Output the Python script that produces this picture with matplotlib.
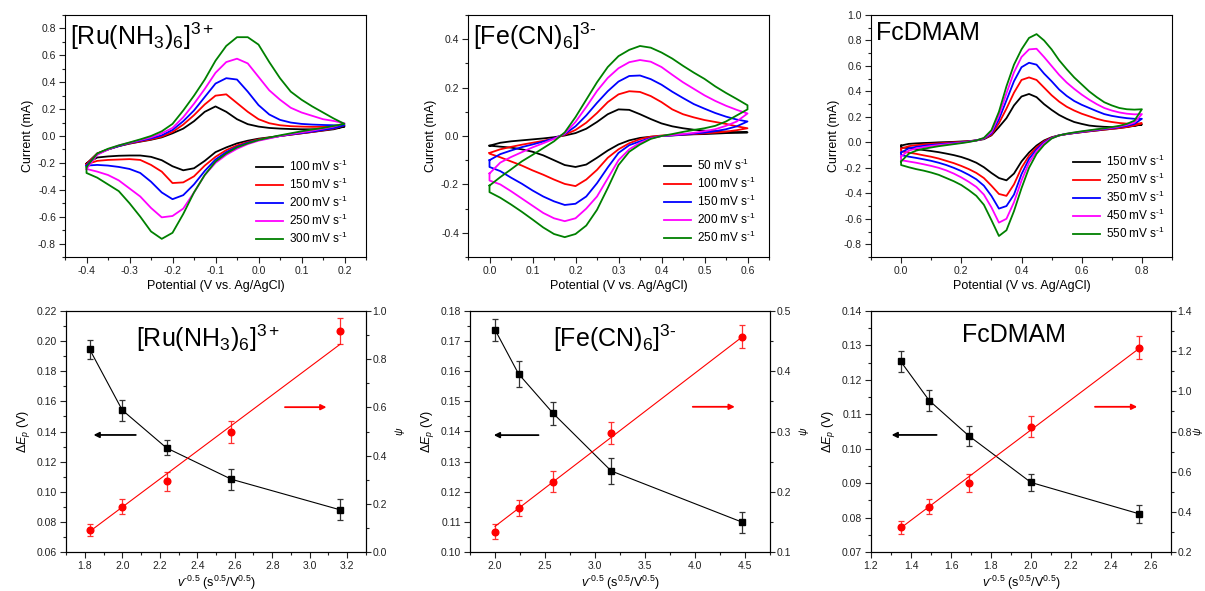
import numpy as np
import matplotlib
matplotlib.use('Agg')
import matplotlib.pyplot as plt
from matplotlib.ticker import MultipleLocator, AutoMinorLocator

# fonts: Arial-like text, mathtext with the same family
matplotlib.rcParams['font.family'] = ['Liberation Sans', 'DejaVu Sans']
matplotlib.rcParams['mathtext.fontset'] = 'custom'
matplotlib.rcParams['mathtext.rm'] = 'Liberation Sans'
matplotlib.rcParams['mathtext.it'] = 'Liberation Sans:italic'
matplotlib.rcParams['mathtext.bf'] = 'Liberation Sans:bold'
matplotlib.rcParams['axes.unicode_minus'] = False
matplotlib.rcParams['axes.linewidth'] = 0.8

colors = ['black', 'red', 'blue', 'magenta', 'green']

# ---------------- CV data, [Ru(NH3)6]3+ ----------------
ru_x = [-0.4, -0.375, -0.35, -0.325, -0.3, -0.275, -0.25, -0.225, -0.2, -0.175, -0.15, -0.125,
        -0.1, -0.075, -0.05, -0.025, 0.0, 0.025, 0.05, 0.075, 0.1, 0.125, 0.15, 0.175, 0.2]
ru_rates = ['100', '150', '200', '250', '300']
ru_up_100 = [-0.205, -0.13, -0.10, -0.075, -0.057, -0.042, -0.028, -0.01, 0.02, 0.055, 0.11, 0.18,
             0.22, 0.18, 0.125, 0.088, 0.07, 0.06, 0.055, 0.052, 0.05, 0.05, 0.052, 0.058, 0.07]
ru_low_100 = [-0.205, -0.16, -0.152, -0.147, -0.145, -0.145, -0.155, -0.18, -0.225, -0.255, -0.24, -0.185,
              -0.12, -0.085, -0.055, -0.035, -0.02, -0.01, 0.0, 0.01, 0.02, 0.03, 0.04, 0.05, 0.07]
ru_up_150 = [-0.21, -0.13, -0.10, -0.075, -0.055, -0.04, -0.025, -0.005, 0.03, 0.085, 0.155, 0.235,
             0.30, 0.31, 0.245, 0.18, 0.125, 0.095, 0.08, 0.073, 0.07, 0.068, 0.068, 0.072, 0.08]
ru_low_150 = [-0.21, -0.185, -0.178, -0.175, -0.172, -0.178, -0.215, -0.265, -0.35, -0.345, -0.3, -0.22,
              -0.155, -0.105, -0.07, -0.045, -0.025, -0.012, 0.0, 0.01, 0.02, 0.03, 0.042, 0.055, 0.08]
ru_up_200 = [-0.22, -0.135, -0.10, -0.075, -0.052, -0.035, -0.018, 0.005, 0.045, 0.11, 0.19, 0.29,
             0.39, 0.43, 0.42, 0.33, 0.23, 0.16, 0.12, 0.10, 0.09, 0.085, 0.082, 0.08, 0.08]
ru_low_200 = [-0.22, -0.215, -0.22, -0.23, -0.245, -0.275, -0.34, -0.42, -0.47, -0.44, -0.36, -0.26,
              -0.175, -0.12, -0.08, -0.05, -0.03, -0.015, 0.0, 0.012, 0.022, 0.033, 0.045, 0.058, 0.08]
ru_up_250 = [-0.245, -0.14, -0.10, -0.07, -0.05, -0.03, -0.01, 0.02, 0.06, 0.14, 0.24, 0.35,
             0.47, 0.55, 0.575, 0.54, 0.44, 0.34, 0.27, 0.21, 0.175, 0.15, 0.125, 0.112, 0.095]
ru_low_250 = [-0.245, -0.265, -0.29, -0.33, -0.39, -0.45, -0.535, -0.605, -0.595, -0.54, -0.42, -0.29,
              -0.2, -0.14, -0.095, -0.06, -0.035, -0.018, 0.0, 0.015, 0.027, 0.04, 0.055, 0.07, 0.095]
ru_up_300 = [-0.23, -0.13, -0.095, -0.07, -0.048, -0.025, 0.0, 0.035, 0.09, 0.19, 0.30, 0.42,
             0.56, 0.67, 0.735, 0.735, 0.68, 0.55, 0.43, 0.33, 0.27, 0.22, 0.175, 0.13, 0.09]
ru_low_300 = [-0.275, -0.31, -0.36, -0.41, -0.5, -0.6, -0.71, -0.765, -0.72, -0.58, -0.42, -0.29,
              -0.19, -0.13, -0.085, -0.055, -0.03, -0.012, 0.005, 0.02, 0.035, 0.048, 0.06, 0.075, 0.09]

# ---------------- CV data, [Fe(CN)6]3- ----------------
fe_x = [0.0, 0.025, 0.05, 0.075, 0.1, 0.125, 0.15, 0.175, 0.2, 0.225, 0.25, 0.275, 0.3,
        0.325, 0.35, 0.375, 0.4, 0.425, 0.45, 0.475, 0.5, 0.525, 0.55, 0.575, 0.6]
fe_rates = ['50', '100', '150', '200', '250']
fe_up_50 = [-0.04, -0.028, -0.022, -0.018, -0.014, -0.01, -0.005, 0.002, 0.012, 0.03, 0.058, 0.09, 0.11,
            0.108, 0.09, 0.07, 0.052, 0.04, 0.032, 0.026, 0.022, 0.02, 0.018, 0.016, 0.015]
fe_low_50 = [-0.04, -0.044, -0.048, -0.055, -0.065, -0.08, -0.1, -0.12, -0.128, -0.118, -0.09, -0.06, -0.035,
             -0.018, -0.008, -0.003, 0.0, 0.002, 0.005, 0.007, 0.008, 0.01, 0.012, 0.013, 0.015]
fe_up_100 = [-0.07, -0.055, -0.045, -0.036, -0.028, -0.02, -0.01, 0.005, 0.025, 0.055, 0.095, 0.14, 0.172,
             0.185, 0.182, 0.165, 0.14, 0.11, 0.09, 0.077, 0.066, 0.058, 0.05, 0.04, 0.032]
fe_low_100 = [-0.073, -0.088, -0.105, -0.122, -0.142, -0.16, -0.18, -0.198, -0.207, -0.18, -0.14, -0.09, -0.055,
              -0.03, -0.013, -0.003, 0.002, 0.004, 0.006, 0.008, 0.011, 0.014, 0.018, 0.024, 0.032]
fe_up_150 = [-0.1, -0.075, -0.06, -0.046, -0.035, -0.023, -0.01, 0.008, 0.04, 0.085, 0.137, 0.185, 0.225,
             0.248, 0.25, 0.235, 0.212, 0.183, 0.157, 0.132, 0.113, 0.095, 0.08, 0.068, 0.06]
fe_low_150 = [-0.128, -0.145, -0.172, -0.197, -0.225, -0.25, -0.27, -0.285, -0.28, -0.25, -0.195, -0.13, -0.07,
              -0.038, -0.022, -0.008, 0.0, 0.003, 0.006, 0.01, 0.014, 0.02, 0.028, 0.04, 0.06]
fe_up_200 = [-0.155, -0.11, -0.087, -0.067, -0.047, -0.03, -0.012, 0.01, 0.058, 0.12, 0.186, 0.24, 0.28,
             0.305, 0.314, 0.307, 0.285, 0.253, 0.222, 0.195, 0.168, 0.145, 0.125, 0.108, 0.093]
fe_low_200 = [-0.184, -0.2, -0.228, -0.258, -0.288, -0.318, -0.34, -0.352, -0.34, -0.3, -0.25, -0.175, -0.1,
              -0.055, -0.028, -0.01, 0.0, 0.004, 0.008, 0.013, 0.02, 0.028, 0.042, 0.06, 0.093]
fe_up_250 = [-0.205, -0.17, -0.138, -0.105, -0.078, -0.05, -0.022, 0.015, 0.078, 0.15, 0.222, 0.285, 0.33,
             0.356, 0.372, 0.365, 0.345, 0.32, 0.29, 0.262, 0.236, 0.205, 0.178, 0.153, 0.127]
fe_low_250 = [-0.232, -0.255, -0.283, -0.313, -0.345, -0.378, -0.405, -0.418, -0.405, -0.37, -0.305, -0.215, -0.12,
              -0.065, -0.035, -0.012, 0.0, 0.008, 0.017, 0.025, 0.032, 0.042, 0.06, 0.085, 0.11]

# ---------------- CV data, FcDMAM ----------------
fc_x = [0.0, 0.025, 0.05, 0.075, 0.1, 0.125, 0.15, 0.175, 0.2, 0.225, 0.25, 0.275, 0.3, 0.325, 0.35, 0.375, 0.4,
        0.425, 0.45, 0.475, 0.5, 0.525, 0.55, 0.575, 0.6, 0.625, 0.65, 0.675, 0.7, 0.725, 0.75, 0.775, 0.8]
fc_rates = ['150', '250', '350', '450', '550']
fc_up_150 = [-0.025, -0.012, -0.008, -0.005, -0.003, 0.0, 0.002, 0.004, 0.007, 0.01, 0.015, 0.025, 0.055, 0.12, 0.19,
             0.29, 0.36, 0.38, 0.355, 0.3, 0.255, 0.215, 0.185, 0.16, 0.145, 0.132, 0.126, 0.122, 0.12, 0.121,
             0.125, 0.132, 0.14]
fc_low_150 = [-0.04, -0.045, -0.052, -0.06, -0.068, -0.077, -0.088, -0.1, -0.115, -0.135, -0.16, -0.195, -0.24, -0.28,
              -0.298, -0.245, -0.15, -0.08, -0.025, 0.015, 0.04, 0.055, 0.065, 0.073, 0.08, 0.087, 0.093, 0.1,
              0.106, 0.112, 0.12, 0.13, 0.14]
fc_up_250 = [-0.05, -0.03, -0.022, -0.016, -0.012, -0.008, -0.004, 0.0, 0.004, 0.009, 0.016, 0.028, 0.06, 0.15, 0.265,
             0.39, 0.49, 0.51, 0.49, 0.43, 0.37, 0.32, 0.28, 0.25, 0.225, 0.205, 0.185, 0.17, 0.16, 0.152, 0.147,
             0.146, 0.15]
fc_low_250 = [-0.07, -0.08, -0.09, -0.102, -0.113, -0.127, -0.145, -0.163, -0.185, -0.21, -0.24, -0.28, -0.34, -0.405,
              -0.42, -0.33, -0.2, -0.105, -0.04, 0.008, 0.038, 0.055, 0.065, 0.073, 0.08, 0.087, 0.094, 0.1, 0.106,
              0.113, 0.121, 0.132, 0.15]
fc_up_350 = [-0.08, -0.048, -0.035, -0.027, -0.02, -0.015, -0.01, -0.005, 0.0, 0.007, 0.016, 0.03, 0.07, 0.18, 0.33,
             0.48, 0.59, 0.625, 0.61, 0.54, 0.48, 0.415, 0.365, 0.325, 0.295, 0.27, 0.245, 0.222, 0.208, 0.198,
             0.19, 0.185, 0.185]
fc_low_350 = [-0.1, -0.112, -0.122, -0.133, -0.145, -0.16, -0.178, -0.2, -0.225, -0.255, -0.29, -0.34, -0.42, -0.52,
              -0.5, -0.41, -0.25, -0.13, -0.055, 0.0, 0.035, 0.055, 0.066, 0.074, 0.082, 0.09, 0.097, 0.104, 0.111,
              0.12, 0.13, 0.145, 0.185]
fc_up_450 = [-0.11, -0.065, -0.048, -0.037, -0.028, -0.021, -0.015, -0.009, -0.003, 0.005, 0.015, 0.032, 0.08, 0.21,
             0.385, 0.55, 0.67, 0.73, 0.735, 0.67, 0.6, 0.53, 0.47, 0.42, 0.375, 0.335, 0.3, 0.27, 0.25, 0.235,
             0.225, 0.22, 0.222]
fc_low_450 = [-0.14, -0.15, -0.16, -0.172, -0.185, -0.2, -0.22, -0.245, -0.275, -0.31, -0.35, -0.41, -0.51, -0.63,
              -0.6, -0.47, -0.3, -0.16, -0.07, -0.008, 0.032, 0.055, 0.067, 0.076, 0.084, 0.092, 0.1, 0.107, 0.115,
              0.125, 0.137, 0.155, 0.222]
fc_up_550 = [-0.15, -0.09, -0.065, -0.05, -0.04, -0.03, -0.022, -0.014, -0.006, 0.003, 0.015, 0.035, 0.095, 0.24,
             0.44, 0.61, 0.73, 0.82, 0.85, 0.8, 0.73, 0.645, 0.575, 0.51, 0.455, 0.4, 0.355, 0.315, 0.29, 0.27,
             0.26, 0.257, 0.26]
fc_low_550 = [-0.178, -0.195, -0.21, -0.222, -0.237, -0.255, -0.28, -0.305, -0.335, -0.375, -0.42, -0.49, -0.61, -0.735,
              -0.69, -0.54, -0.36, -0.2, -0.09, -0.02, 0.03, 0.055, 0.068, 0.078, 0.087, 0.095, 0.103, 0.11, 0.12,
              0.13, 0.145, 0.17, 0.26]

# ---------------- peak separation / psi data ----------------
ru_v = [1.826, 2.0, 2.236, 2.582, 3.162]
ru_dEp = [0.1946, 0.1542, 0.1291, 0.1083, 0.088]
ru_dEp_err = [0.0063, 0.007, 0.005, 0.007, 0.007]
ru_psi = [0.092, 0.188, 0.294, 0.498, 0.915]
ru_psi_err = [0.026, 0.031, 0.04, 0.047, 0.054]
ru_fit = [0.085, 0.862]

fe_v = [2.0, 2.236, 2.582, 3.162, 4.472]
fe_dEp = [0.1738, 0.1591, 0.146, 0.1269, 0.1099]
fe_dEp_err = [0.0036, 0.0044, 0.0038, 0.0043, 0.0035]
fe_psi = [0.134, 0.173, 0.217, 0.297, 0.457]
fe_psi_err = [0.0124, 0.0135, 0.017, 0.018, 0.019]
fe_fit = [0.1425, 0.457]

fc_v = [1.348, 1.491, 1.69, 2.0, 2.54]
fc_dEp = [0.1254, 0.114, 0.1037, 0.0902, 0.0811]
fc_dEp_err = [0.003, 0.003, 0.0029, 0.0026, 0.0026]
fc_psi = [0.324, 0.425, 0.543, 0.824, 1.217]
fc_psi_err = [0.032, 0.038, 0.046, 0.052, 0.057]
fc_fit = [0.319, 1.213]

fig = plt.figure(figsize=(12.05, 5.91), dpi=100)
W, H = 1205.0, 591.0


def style_ax(ax, xmaj, ymaj):
    ax.xaxis.set_major_locator(MultipleLocator(xmaj))
    ax.yaxis.set_major_locator(MultipleLocator(ymaj))
    ax.xaxis.set_minor_locator(AutoMinorLocator(2))
    ax.yaxis.set_minor_locator(AutoMinorLocator(2))
    ax.tick_params(which='both', direction='out', labelsize=7.5, width=0.8, colors='#222222', pad=2.5)
    ax.tick_params(which='major', length=4)
    ax.tick_params(which='minor', length=2)


def cv_panel(left, x, ups, lows, rates, xlim, ylim, xmaj, title, leg_xy):
    ax = fig.add_axes([left / W, 1 - 257 / H, 301 / W, 242 / H])
    for up, low, c, r in zip(ups, lows, colors, rates):
        xs = x + x[::-1] + [x[0]]
        ys = up + low[::-1] + [up[0]]
        ax.plot(xs, ys, color=c, lw=1.3, label=r + ' mV s$^{\\text{-}1}$')
    ax.set_xlim(xlim)
    ax.set_ylim(ylim)
    style_ax(ax, xmaj, 0.2)
    ax.set_xlabel('Potential (V vs. Ag/AgCl)', fontsize=9, labelpad=3)
    ax.set_ylabel('Current (mA)', fontsize=9, labelpad=3)
    ax.text(0.018, 0.975, title, transform=ax.transAxes, fontsize=18, ha='left', va='top')
    ax.legend(loc='upper left', bbox_to_anchor=leg_xy, frameon=False, fontsize=8.5,
              borderpad=0, handlelength=2.3, handletextpad=0.5, labelspacing=0.24)
    return ax


cv_panel(65, ru_x, [ru_up_100, ru_up_150, ru_up_200, ru_up_250, ru_up_300],
         [ru_low_100, ru_low_150, ru_low_200, ru_low_250, ru_low_300], ru_rates,
         (-0.45, 0.25), (-0.9, 0.9), 0.1, '[Ru(NH$_3$)$_6$]$^{3+}$', (0.615, 0.43))
cv_panel(468, fe_x, [fe_up_50, fe_up_100, fe_up_150, fe_up_200, fe_up_250],
         [fe_low_50, fe_low_100, fe_low_150, fe_low_200, fe_low_250], fe_rates,
         (-0.05, 0.65), (-0.5, 0.5), 0.1, '[Fe(CN)$_6$]$^{3\\text{-}}$', (0.63, 0.435))
cv_panel(871, fc_x, [fc_up_150, fc_up_250, fc_up_350, fc_up_450, fc_up_550],
         [fc_low_150, fc_low_250, fc_low_350, fc_low_450, fc_low_550], fc_rates,
         (-0.1, 0.9), (-0.9, 1.0), 0.2, 'FcDMAM', (0.65, 0.45))


def dep_panel(left, v, dEp, dEp_err, psi, psi_err, fit, xlim, ylim, ylim2, xmaj, ymaj, ymaj2,
              title, title_x, barrow, rarrow, psi_x):
    ax = fig.add_axes([left / W, 1 - 552 / H, 300 / W, 241 / H])
    ax2 = ax.twinx()
    ax.errorbar(v, dEp, yerr=dEp_err, fmt='s-', color='black', ms=4.5, lw=0.8,
                ecolor='#333333', elinewidth=0.9, capsize=2.2, capthick=0.9)
    ax2.errorbar(v, psi, yerr=psi_err, fmt='o', color='red', ms=4.8,
                 ecolor='#ff3030', elinewidth=0.9, capsize=2.2, capthick=0.9)
    ax2.plot([v[0], v[-1]], fit, color='red', lw=0.8)
    ax.set_xlim(xlim)
    ax.set_ylim(ylim)
    ax2.set_ylim(ylim2)
    style_ax(ax, xmaj, ymaj)
    ax2.yaxis.set_major_locator(MultipleLocator(ymaj2))
    ax2.yaxis.set_minor_locator(AutoMinorLocator(2))
    ax2.tick_params(which='both', direction='out', labelsize=7.5, width=0.8, colors='#222222', pad=1.2)
    ax2.tick_params(which='major', length=3.5)
    ax2.tick_params(which='minor', length=2)
    ax.set_xlabel('$v^{\\text{-}0.5}$ (s$^{0.5}$/V$^{0.5}$)', fontsize=9, labelpad=2)
    ax.set_ylabel('$\\Delta E_p$ (V)', fontsize=9, labelpad=3)
    ax2.set_ylabel('$\\psi$', fontsize=7.5)
    ax2.yaxis.set_label_coords(psi_x, 0.5)
    ax.text(title_x, 0.95, title, transform=ax.transAxes, fontsize=18, ha='center', va='top')
    ax.annotate('', xy=barrow[1], xytext=barrow[0],
                arrowprops=dict(arrowstyle='-|>', color='black', lw=1.3, mutation_scale=8))
    ax2.annotate('', xy=rarrow[1], xytext=rarrow[0],
                 arrowprops=dict(arrowstyle='-|>', color='red', lw=1.3, mutation_scale=8))


dep_panel(66, ru_v, ru_dEp, ru_dEp_err, ru_psi, ru_psi_err, ru_fit,
          (1.7, 3.3), (0.06, 0.22), (0.0, 1.0), 0.2, 0.02, 0.2,
          '[Ru(NH$_3$)$_6$]$^{3+}$', 0.473, ((2.087, 0.1377), (1.832, 0.1377)), ((2.853, 0.601), (3.104, 0.601)),
          1.09)
dep_panel(470, fe_v, fe_dEp, fe_dEp_err, fe_psi, fe_psi_err, fe_fit,
          (1.75, 4.75), (0.10, 0.18), (0.1, 0.5), 0.5, 0.01, 0.1,
          '[Fe(CN)$_6$]$^{3\\text{-}}$', 0.483, ((2.463, 0.1388), (1.96, 0.1388)), ((3.95, 0.341), (4.426, 0.341)),
          1.09)
dep_panel(871, fc_v, fc_dEp, fc_dEp_err, fc_psi, fc_psi_err, fc_fit,
          (1.2, 2.7), (0.07, 0.14), (0.2, 1.4), 0.2, 0.01, 0.2,
          'FcDMAM', 0.475, ((1.542, 0.104), (1.289, 0.104)), ((2.306, 0.923), (2.545, 0.923)),
          1.066)

fig.savefig('out.png', dpi=100)
